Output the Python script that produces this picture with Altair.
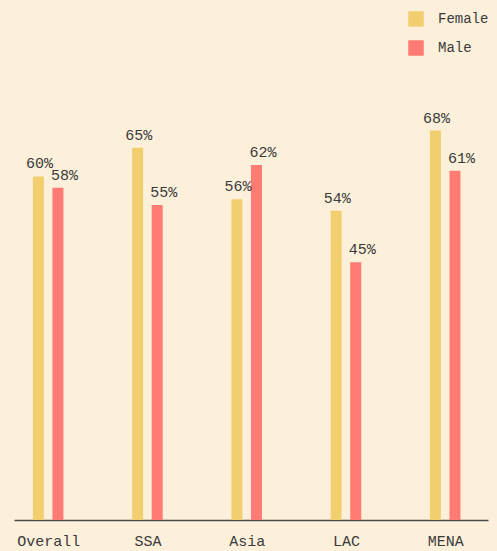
import altair as alt
import pandas as pd

regions = ["Overall", "SSA", "Asia", "LAC", "MENA"]
genders = ["Female", "Male"]
female = [60, 65, 56, 54, 68]
male = [58, 55, 62, 45, 61]

rows = []
for i, (r, f, m) in enumerate(zip(regions, female, male)):
    rows.append({"idx": i, "region": r, "gender": "Female", "value": f})
    rows.append({"idx": i, "region": r, "gender": "Male", "value": m})
df = pd.DataFrame(rows)
df["label"] = df["value"].astype(str) + "%"

FONT = "Liberation Mono"
TXT = "#3a3a3a"
BG = "#fcf0db"

label_expr = "[" + ",".join("'%s'" % r for r in regions) + "][datum.value]"

x = alt.X("pos:Q",
          scale=alt.Scale(domain=[-0.2939, 4.381], nice=False, zero=False),
          axis=alt.Axis(title=None, values=list(range(len(regions))), labelExpr=label_expr,
                        grid=False, ticks=False, domain=True, domainColor="#4a4a4a",
                        domainWidth=1.5, labelFont=FONT, labelFontSize=15,
                        labelColor=TXT, labelPadding=13, labelFlush=False))
y = alt.Y("value:Q", scale=alt.Scale(domain=[0, 90.8], nice=False), axis=None)
color = alt.Color("gender:N",
                  scale=alt.Scale(domain=genders, range=["#f2cf6e", "#ff7b73"]),
                  legend=alt.Legend(title=None, orient="none", legendX=394, legendY=11,
                                    symbolType="square", symbolSize=240,
                                    symbolStrokeWidth=0, symbolOpacity=1,
                                    labelFont=FONT, labelFontSize=14, labelColor=TXT,
                                    rowPadding=13, labelOffset=14, padding=0))

base = alt.Chart(df).transform_calculate(
    pos="datum.idx + (datum.gender == 'Female' ? -0.0986 : 0.0986)"
)

bars = base.mark_bar(size=11).encode(x=x, y=y, color=color)

tf = base.transform_filter("datum.gender == 'Female'").mark_text(
    baseline="alphabetic", dy=-8, dx=1, font=FONT, fontSize=15, color=TXT
).encode(x=x, y=y, text="label:N")
tm = base.transform_filter("datum.gender == 'Male'").mark_text(
    baseline="alphabetic", dy=-8, dx=6.5, font=FONT, fontSize=15, color=TXT
).encode(x=x, y=y, text="label:N")

chart = alt.layer(bars, tf, tm).properties(
    width=474, height=520,
    padding={"left": 14, "top": 0, "right": 9, "bottom": 31},
    autosize=alt.AutoSizeParams(type="none"),
    background=BG,
).configure_view(stroke=None)

chart.save("out.html", embed_options={"renderer": "svg", "actions": False})
